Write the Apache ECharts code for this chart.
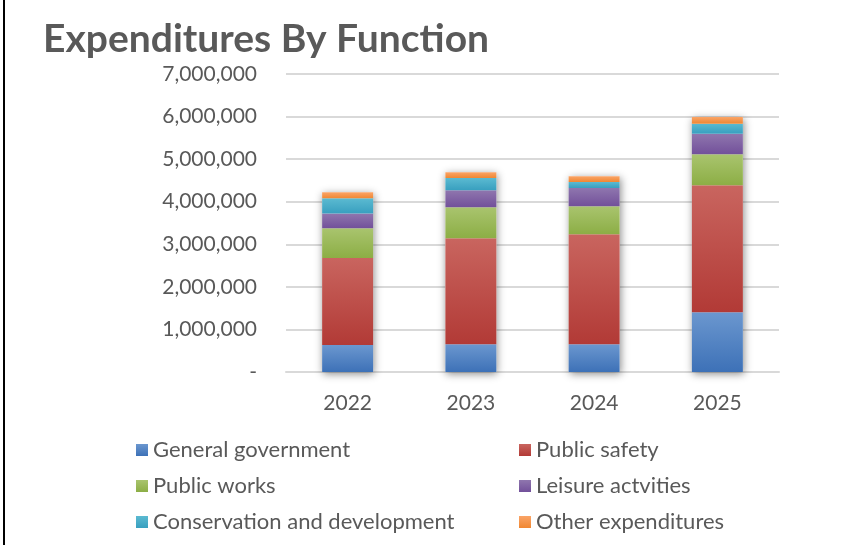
<!DOCTYPE html>
<html>
<head>
<meta charset="utf-8">
<script src="https://cdn.jsdelivr.net/npm/echarts@6/dist/echarts.min.js"></script>
<style>
  html, body { margin: 0; padding: 0; background: #fff; }
  #chart { width: 867px; height: 545px; }
</style>
</head>
<body>
<div id="chart"></div>
<script>
// Fiscal years and spending per function
const years = ['2022', '2023', '2024', '2025'];
const generalGovernment = [634000, 651000, 651000, 1402000];
const publicSafety = [2044000, 2490000, 2584000, 2983000];
const publicWorks = [698000, 728000, 658000, 728000];
const leisureActivities = [345000, 399000, 430000, 486000];
const conservationDevelopment = [359000, 289000, 141000, 235000];
const otherExpenditures = [141000, 134000, 134000, 155000];

const seriesNames = ['General government', 'Public safety', 'Public works',
  'Leisure actvities', 'Conservation and development', 'Other expenditures'];
const seriesData = [generalGovernment, publicSafety, publicWorks,
  leisureActivities, conservationDevelopment, otherExpenditures];
// [top, bottom] shades of each segment's vertical gradient
const shades = [
  ['#6b97cf', '#3d71b7'],
  ['#c9655f', '#b23a36'],
  ['#a9c46e', '#8cae45'],
  ['#8f76ae', '#72509a'],
  ['#5bbad1', '#389fbf'],
  ['#faa467', '#f08732']
];
const legendSwatch = ['#4f81bd', '#c0504d', '#9bbb59', '#8064a2', '#4bacc6', '#f79646'];

const totals = years.map((_, i) => seriesData.reduce((s, arr) => s + arr[i], 0));

const font = 'Lato, "Noto Sans", sans-serif';
const textColor = '#595959';

const chart = echarts.init(document.getElementById('chart'), null, { renderer: 'canvas' });

const stacked = seriesNames.map((name, k) => ({
  name: name,
  type: 'bar',
  stack: 'spend',
  barWidth: 51,
  z: 3,
  data: seriesData[k],
  itemStyle: {
    color: {
      type: 'linear', x: 0, y: 0, x2: 0, y2: 1,
      colorStops: [
        { offset: 0, color: shades[k][0] },
        { offset: 1, color: shades[k][1] }
      ]
    }
  }
}));

const legendText = { fontFamily: font, fontSize: 22, color: textColor, lineHeight: 24 };

chart.setOption({
  animation: false,
  backgroundColor: '#ffffff',
  color: legendSwatch,
  title: {
    text: 'Expenditures By Function',
    left: 38,
    top: 15,
    textStyle: { fontFamily: font, fontSize: 39, fontWeight: 'bold', color: textColor }
  },
  graphic: [{
    type: 'rect',
    shape: { x: 3, y: 0, width: 2, height: 545 },
    style: { fill: '#000' },
    silent: true
  }],
  legend: [
    {
      data: [seriesNames[0], seriesNames[2], seriesNames[4]],
      orient: 'vertical',
      left: 131, top: 433,
      itemWidth: 12, itemHeight: 12, itemGap: 12,
      icon: 'rect',
      textStyle: legendText
    },
    {
      data: [seriesNames[1], seriesNames[3], seriesNames[5]],
      orient: 'vertical',
      left: 514, top: 433,
      itemWidth: 12, itemHeight: 12, itemGap: 12,
      icon: 'rect',
      textStyle: legendText
    }
  ],
  grid: { left: 286, right: 88, top: 74, bottom: 173, containLabel: false },
  xAxis: {
    type: 'category',
    data: years,
    axisTick: { show: false },
    axisLine: { lineStyle: { color: '#d9d9d9', width: 2 } },
    axisLabel: { fontFamily: font, fontSize: 21, color: textColor, margin: 21 }
  },
  yAxis: {
    type: 'value',
    min: 0, max: 7000000, interval: 1000000,
    axisLine: { show: false },
    axisTick: { show: false },
    splitLine: { lineStyle: { color: '#d9d9d9', width: 2 } },
    axisLabel: {
      fontFamily: font, fontSize: 21, color: textColor, margin: 29,
      formatter: v => v === 0 ? '-' : v.toLocaleString('en-US')
    }
  },
  series: [{
    name: 'total',
    type: 'bar',
    barWidth: 51,
    barGap: '-100%',
    z: 2,
    data: totals,
    itemStyle: {
      color: '#ffffff',
      shadowBlur: 8,
      shadowColor: 'rgba(0,0,0,0.45)',
      shadowOffsetX: 1,
      shadowOffsetY: 2
    },
    silent: true
  }].concat(stacked)
});
</script>
</body>
</html>
